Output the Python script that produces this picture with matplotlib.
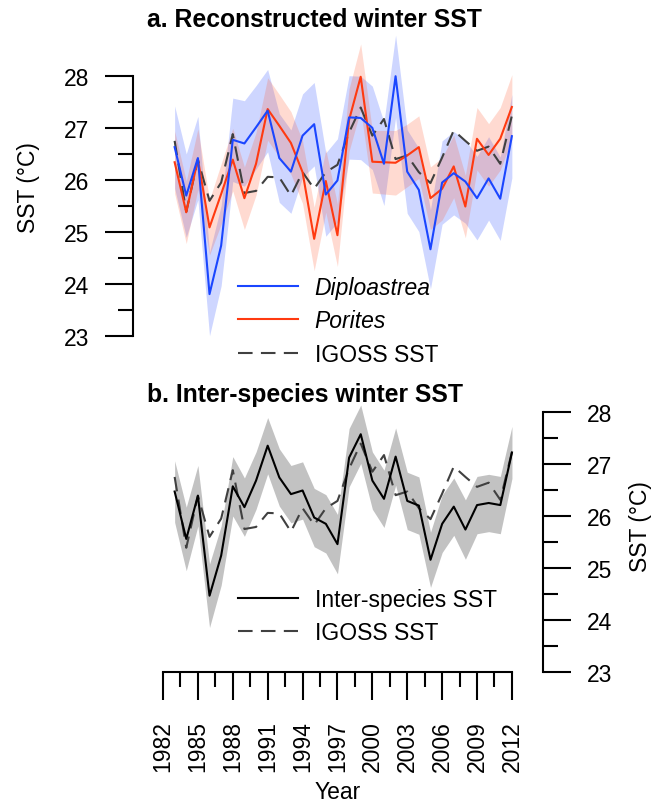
import matplotlib
matplotlib.use("Agg")
import matplotlib.pyplot as plt
from matplotlib.ticker import FixedLocator, NullFormatter
from matplotlib.lines import Line2D

plt.rcParams['font.family'] = ['Liberation Sans', 'DejaVu Sans']

years = list(range(1983, 2013))

diploastrea = [26.63, 25.70, 26.42, 23.81, 24.74, 26.77, 26.70, 27.01, 27.33, 26.42,
               26.16, 26.85, 27.07, 25.72, 25.99, 27.20, 27.19, 27.00, 26.31, 27.99,
               26.16, 25.81, 24.67, 25.95, 26.13, 25.97, 25.65, 26.03, 25.64, 26.84]
diploastrea_err = [0.79, 0.80, 0.80, 0.80, 0.77, 0.80, 0.82, 0.80, 0.79, 0.85,
                   0.80, 0.80, 0.80, 0.80, 0.80, 0.80, 0.80, 0.80, 0.80, 0.79,
                   0.80, 0.80, 0.76, 0.80, 0.80, 0.80, 0.80, 0.80, 0.80, 0.80]

porites = [26.34, 25.38, 26.40, 25.09, 25.73, 26.39, 25.65, 26.31, 27.36, 27.04,
           26.71, 26.15, 24.87, 25.98, 24.94, 27.15, 27.98, 26.35, 26.34, 26.33,
           26.47, 26.63, 25.65, 25.83, 26.26, 25.49, 26.79, 26.48, 26.79, 27.40]
porites_err = [0.60, 0.60, 0.58, 0.53, 0.58, 0.60, 0.60, 0.60, 0.60, 0.60,
               0.60, 0.60, 0.61, 0.60, 0.60, 0.60, 0.63, 0.60, 0.61, 0.62,
               0.60, 0.60, 0.60, 0.60, 0.60, 0.60, 0.60, 0.60, 0.60, 0.62]

igoss = [26.75, 25.39, 26.39, 25.60, 25.95, 26.88, 25.75, 25.79, 26.06, 26.05,
         25.70, 26.15, 25.83, 26.15, 26.29, 26.91, 27.39, 26.85, 27.17, 26.40,
         26.47, 26.15, 25.94, 26.43, 26.95, 26.75, 26.56, 26.64, 26.31, 27.23]

inter = [26.47, 25.56, 26.39, 24.47, 25.24, 26.57, 26.17, 26.68, 27.35, 26.74,
         26.42, 26.49, 25.97, 25.85, 25.46, 27.12, 27.57, 26.68, 26.33, 27.14,
         26.29, 26.20, 25.16, 25.85, 26.18, 25.74, 26.21, 26.25, 26.21, 27.22]
inter_err = [0.59, 0.61, 0.58, 0.61, 0.57, 0.57, 0.56, 0.55, 0.54, 0.55,
             0.55, 0.55, 0.56, 0.56, 0.57, 0.56, 0.56, 0.55, 0.55, 0.55,
             0.55, 0.55, 0.53, 0.55, 0.55, 0.57, 0.55, 0.55, 0.55, 0.50]

y_ticks = [23, 24, 25, 26, 27, 28]
y_minor = [23.5, 24.5, 25.5, 26.5, 27.5]
x_ticks = [1982, 1985, 1988, 1991, 1994, 1997, 2000, 2003, 2006, 2009, 2012]
x_minor = [1983.5, 1986.5, 1989.5, 1992.5, 1995.5, 1998.5, 2001.5, 2004.5, 2007.5, 2010.5]

W, H = 657, 803
fig = plt.figure(figsize=(W / 100, H / 100), dpi=100)


def px_axes(left, top, right, bottom):
    return fig.add_axes([left / W, 1 - bottom / H, (right - left) / W, (bottom - top) / H])


BLUE = '#1A46FF'
RED = '#FF3A10'
DASH = '#404040'
DASHES = (7, 4)
FS = 16.5
LW = 1.5
TICK_MAJ = 20.5
TICK_MIN = 10.5

# ---------- panel a ----------
ax1 = px_axes(133, 30, 525, 345)
ax1.set_xlim(1979.42, 2013.13)
ax1.set_ylim(22.853, 28.896)
lo = [v - e for v, e in zip(diploastrea, diploastrea_err)]
hi = [v + e for v, e in zip(diploastrea, diploastrea_err)]
ax1.fill_between(years, lo, hi, color='#3355FF', alpha=0.24, lw=0)
lo = [v - e for v, e in zip(porites, porites_err)]
hi = [v + e for v, e in zip(porites, porites_err)]
ax1.fill_between(years, lo, hi, color='#FF5A30', alpha=0.22, lw=0)
ax1.plot(years, igoss, color=DASH, lw=LW, dashes=DASHES)
ax1.plot(years, porites, color=RED, lw=LW)
ax1.plot(years, diploastrea, color=BLUE, lw=LW)

for s in ['top', 'right', 'bottom']:
    ax1.spines[s].set_visible(False)
ax1.spines['left'].set_bounds(23, 28)
ax1.spines['left'].set_linewidth(LW)
ax1.set_xticks([])
ax1.yaxis.set_major_locator(FixedLocator(y_ticks))
ax1.yaxis.set_minor_locator(FixedLocator(y_minor))
ax1.yaxis.set_minor_formatter(NullFormatter())
ax1.tick_params(axis='y', which='major', length=TICK_MAJ, width=LW, labelsize=FS, pad=11)
ax1.tick_params(axis='y', which='minor', length=TICK_MIN, width=LW)
ax1.set_ylabel('SST (°C)', fontsize=FS, labelpad=17)
ax1.patch.set_visible(False)

fig.text(147 / W, 1 - 20 / H, 'a. Reconstructed winter SST', fontsize=17.8, fontweight='bold',
         ha='left', va='center')

h1 = [Line2D([], [], color=BLUE, lw=LW), Line2D([], [], color=RED, lw=LW),
      Line2D([], [], color=DASH, lw=LW, dashes=DASHES)]
leg1 = fig.legend(h1, ['Diploastrea', 'Porites', 'IGOSS SST'], loc='upper left',
                  bbox_to_anchor=(238 / W, 1 - 277 / H), frameon=False, fontsize=FS,
                  handlelength=2.6, handletextpad=0.75, labelspacing=0.45, borderpad=0,
                  borderaxespad=0)
leg1.get_texts()[0].set_fontstyle('italic')
leg1.get_texts()[1].set_fontstyle('italic')

# ---------- panel b ----------
ax2 = px_axes(133, 380, 543, 673.3)
ax2.set_xlim(1979.42, 2014.67)
ax2.set_ylim(23, 28.63)
lo = [v - e for v, e in zip(inter, inter_err)]
hi = [v + e for v, e in zip(inter, inter_err)]
ax2.fill_between(years, lo, hi, color='#C2C2C2', lw=0)
ax2.plot(years, igoss, color=DASH, lw=LW, dashes=DASHES)
ax2.plot(years, inter, color='black', lw=LW)

for s in ['top', 'left']:
    ax2.spines[s].set_visible(False)
ax2.spines['right'].set_bounds(23, 28)
ax2.spines['bottom'].set_bounds(1982, 2012)
ax2.spines['right'].set_linewidth(LW)
ax2.spines['bottom'].set_linewidth(LW)
ax2.yaxis.tick_right()
ax2.yaxis.set_label_position('right')
ax2.yaxis.set_major_locator(FixedLocator(y_ticks))
ax2.yaxis.set_minor_locator(FixedLocator(y_minor))
ax2.yaxis.set_minor_formatter(NullFormatter())
ax2.xaxis.set_major_locator(FixedLocator(x_ticks))
ax2.xaxis.set_minor_locator(FixedLocator(x_minor))
ax2.xaxis.set_minor_formatter(NullFormatter())
ax2.set_xticklabels([str(t) for t in x_ticks], rotation=90)
ax2.tick_params(axis='both', which='major', length=TICK_MAJ, width=LW, labelsize=FS, pad=11)
ax2.tick_params(axis='x', which='major', pad=14)
ax2.tick_params(axis='both', which='minor', length=TICK_MIN, width=LW)
ax2.set_ylabel('SST (°C)', fontsize=FS, labelpad=12, rotation=90)
ax2.set_xlabel('Year', fontsize=FS, labelpad=6)
ax2.patch.set_visible(False)

fig.text(147 / W, 1 - 395 / H, 'b. Inter-species winter SST', fontsize=17.8, fontweight='bold',
         ha='left', va='center')

h2 = [Line2D([], [], color='black', lw=LW),
      Line2D([], [], color=DASH, lw=LW, dashes=DASHES)]
fig.legend(h2, ['Inter-species SST', 'IGOSS SST'], loc='upper left',
           bbox_to_anchor=(238 / W, 1 - 589 / H), frameon=False, fontsize=FS,
           handlelength=2.6, handletextpad=0.75, labelspacing=0.45, borderpad=0,
           borderaxespad=0)

fig.savefig('out.png', dpi=100)
